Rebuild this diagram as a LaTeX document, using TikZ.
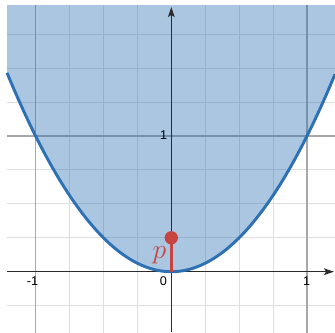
\documentclass[tikz,border=0pt]{standalone}
\usepackage{fontspec}
\newfontfamily\numfont{Liberation Sans}
\usetikzlibrary{arrows.meta}
\definecolor{dblue}{HTML}{2D70B3}
\definecolor{dred}{HTML}{C74440}
\definecolor{minorgrid}{HTML}{DEDEDE}
\definecolor{majorgrid}{HTML}{A8A8A8}
\definecolor{axiscol}{HTML}{2B2B2B}
\begin{document}
\begin{tikzpicture}[x=101.775pt,y=101.775pt,
  minorline/.style={draw=minorgrid,line width=0.8pt},
  majorline/.style={draw=majorgrid,line width=0.8pt},
  axisline/.style={draw=axiscol,line width=1pt,-{Stealth[length=7.5pt,width=5pt,inset=1.5pt]}},
  ticklab/.style={font=\numfont\fontsize{9.5}{10}\selectfont,text=black,inner sep=0.5pt},
  curve/.style={draw=dblue,line width=2.2pt},
  region/.style={fill=dblue,fill opacity=0.4}]
\useasboundingbox (-1.2623,-0.4443) rectangle (1.2063,2.0022);
\begin{scope}
  \clip (-1.2107,-0.4443) rectangle (1.2063,1.958);
  % minor grid
  \foreach \g in {-1.25,-0.75,-0.5,-0.25,0.25,0.5,0.75,1.25}{
    \path[minorline] (\g,-0.5) -- (\g,2.0);}
  \foreach \g in {-0.25,0.25,0.5,0.75,1.25,1.5,1.75}{
    \path[minorline] (-1.3,\g) -- (1.3,\g);}
  % major grid
  \foreach \g in {-1,1}{\path[majorline] (\g,-0.5) -- (\g,2.0);}
  \path[majorline] (-1.3,1) -- (1.3,1);
  % region above parabola
  \path[region] (-1.2107,1.97) -- plot[domain=-1.2107:1.2063,samples=120] (\x,{\x*\x}) -- (1.2063,1.97) -- cycle;
\end{scope}
% axes
\coordinate (xs) at (-1.2107,0);
\coordinate (xe) at (1.199,0);
\coordinate (ys) at (0,-0.4443);
\coordinate (ye) at (0,1.9506);
\draw[axisline] (xs) -- (xe);
\draw[axisline] (ys) -- (ye);
% parabola
\draw[curve] plot[domain=-1.2107:1.2063,samples=120] (\x,{\x*\x});
% tick labels
\node[ticklab] (lm1) at (-1.022,-0.071) {-1};
\node[ticklab] (l0) at (-0.059,-0.071) {0};
\node[ticklab] (l1) at (0.998,-0.071) {1};
\node[ticklab] (ly1) at (-0.057,1.007) {1};
% red segment and point
\coordinate (O) at (0,0);
\node[circle,fill=dred,inner sep=0pt,minimum size=10pt] (P) at (0,0.25) {};
\draw[dred,line width=2.4pt] (O) -- (P.center);
\node[text=dred,inner sep=0pt,font=\fontsize{22}{22}\selectfont] (plab) at (-0.088,0.12) {$p$};
\end{tikzpicture}
\end{document}
